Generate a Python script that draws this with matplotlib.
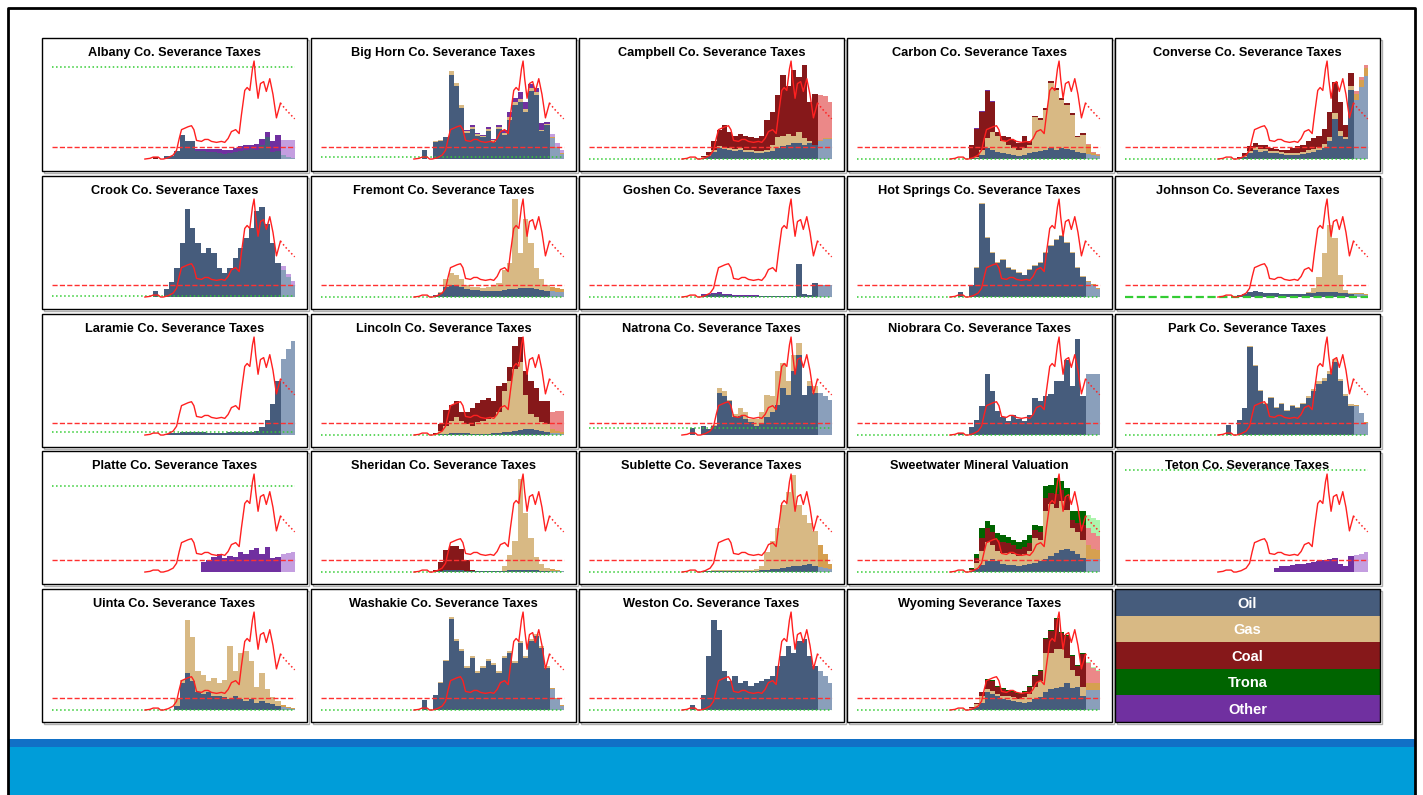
import numpy as np
import matplotlib
matplotlib.use("Agg")
import matplotlib.pyplot as plt
from matplotlib.patches import Rectangle

plt.rcParams['font.family'] = ['Liberation Sans', 'DejaVu Sans']

W, H = 1423, 795

# bins: 22 actual steps + 3 projected steps (x in step units)
bin_left = np.arange(42, 92, 2)
n_act = 22

# shared price line (normalised, peak = 100)
price_x = [35, 36.9, 38.1, 40, 40.9, 41.9, 43.75, 45.6, 46.9, 47.9, 48.75, 49.6, 51.25, 52.5,
           53.4, 54.4, 56.25, 57.5, 58.75, 60, 61.9, 63.75, 65, 66.25, 67.5, 69.1, 70.4, 71.25,
           72.5, 73.4, 74.4, 75.4, 76, 76.6, 77.5, 78.4, 79.6, 80.6, 81.9, 83.1, 84.4, 85.9]
price_y = [0, 0.7, 2, 2, 0, 0, 1.4, 4, 9, 21, 30, 31, 33, 34,
           30, 19, 18, 20, 20, 18, 17, 18, 17, 21, 28, 30, 26, 45,
           70, 73, 70, 92, 100, 82, 62, 77, 79, 69, 82, 66, 42, 57]
proj_x = [85.9, 88.1, 91.25]
proj_y = [57, 50, 41]

# ---- county data (oil, gas, coal, trona, other) ----
albany_oil = [3, 3, 8, 25, 18, 18, 8, 8, 7, 7, 6, 5, 6, 7, 8, 9, 10, 9, 14, 22, 7, 8, 4, 2, 1]
albany_other = [0, 0, 0, 0, 0, 0, 2, 2, 3, 3, 4, 4, 3, 4, 5, 5, 4, 6, 6, 6, 11, 17, 15, 17, 18]

bighorn_oil = [17, 18, 22, 86, 75, 52, 27, 31, 24, 22, 29, 17, 31, 25, 40, 55, 58, 48, 69, 65, 29, 35, 21, 11, 5]
bighorn_gas = [1, 1, 1, 4, 3, 3, 2, 2, 2, 2, 2, 2, 2, 2, 3, 3, 3, 3, 3, 3, 1, 1, 1, 1, 1]
bighorn_other = [0, 0, 0, 0, 0, 0, 1, 2, 1, 1, 2, 1, 2, 3, 5, 4, 7, 7, 5, 4, 7, 2, 4, 4, 3]

campbell_oil = [1, 3, 7, 11, 10, 9, 8, 9, 7, 7, 6, 6, 7, 8, 11, 13, 14, 16, 16, 14, 16, 14, 18, 20, 20]
campbell_gas = [1, 1, 2, 2, 2, 2, 2, 2, 2, 2, 2, 2, 2, 6, 12, 11, 12, 8, 12, 7, 2, 0, 1, 1, 1]
campbell_coal = [1, 3, 9, 17, 23, 17, 14, 15, 15, 14, 13, 16, 31, 34, 42, 62, 49, 67, 56, 75, 40, 52, 46, 43, 37]

carbon_oil = [1, 1, 4, 11, 9, 7, 6, 5, 4, 3, 4, 6, 7, 8, 9, 11, 9, 11, 10, 9, 7, 6, 5, 4, 3]
carbon_gas = [0, 1, 5, 10, 19, 17, 12, 9, 7, 6, 7, 8, 36, 32, 41, 67, 61, 49, 45, 36, 15, 19, 9, 2, 1]
carbon_coal = [13, 29, 39, 48, 30, 4, 6, 9, 8, 7, 13, 4, 1, 2, 2, 2, 2, 2, 2, 2, 2, 2, 1, 1, 1]
carbon_other = [0, 1, 1, 1, 1, 0, 0, 0, 0, 0, 0, 0, 0, 0, 0, 0, 0, 0, 0, 0, 0, 0, 0, 0, 0]

converse_oil = [1, 2, 6, 9, 7, 8, 6, 6, 5, 4, 4, 4, 5, 6, 7, 9, 11, 18, 41, 24, 20, 70, 60, 74, 85]
converse_gas = [0, 1, 2, 3, 3, 2, 2, 2, 2, 2, 2, 2, 2, 3, 3, 3, 4, 5, 6, 5, 3, 5, 6, 7, 8]
converse_coal = [1, 3, 5, 4, 4, 4, 3, 2, 2, 3, 5, 7, 7, 9, 11, 12, 16, 25, 32, 29, 12, 13, 3, 3, 3]

crook_oil = [8, 15, 30, 55, 90, 70, 55, 45, 50, 45, 30, 25, 30, 40, 50, 60, 70, 88, 92, 75, 55, 35, 28, 20, 12]
crook_other = [0, 0, 0, 0, 0, 0, 0, 0, 0, 0, 0, 0, 0, 0, 0, 0, 0, 0, 0, 0, 0, 0, 4, 4, 4]

fremont_oil = [2, 4, 10, 12, 12, 10, 8, 7, 7, 6, 6, 6, 6, 7, 8, 8, 9, 9, 9, 8, 7, 6, 6, 5, 5]
fremont_gas = [0, 1, 8, 13, 10, 8, 4, 3, 3, 3, 4, 6, 8, 21, 27, 92, 36, 71, 46, 22, 11, 6, 4, 4, 3]

goshen_oil = [2, 2, 3, 3, 2, 2, 1, 1, 1, 1, 1, 1, 1, 1, 1, 1, 1, 1, 34, 3, 2, 14, 12, 12, 12]
goshen_other = [1, 1, 1, 2, 1, 1, 1, 1, 1, 1, 1, 0, 0, 0, 0, 0, 0, 0, 0, 0, 0, 0, 0, 0, 0]

hotsprings_oil = [12, 30, 95, 60, 45, 35, 38, 30, 28, 25, 22, 28, 32, 35, 45, 52, 58, 62, 55, 45, 30, 20, 15, 12, 8]
hotsprings_gas = [0, 1, 1, 1, 1, 1, 1, 1, 1, 1, 1, 1, 1, 1, 1, 1, 1, 1, 1, 1, 1, 1, 1, 1, 1]

johnson_oil = [2, 3, 5, 6, 5, 4, 4, 4, 3, 3, 3, 3, 3, 4, 4, 5, 5, 5, 5, 4, 4, 3, 3, 3, 2]
johnson_gas = [0, 0, 0, 0, 0, 0, 0, 0, 0, 0, 0, 0, 0, 1, 5, 15, 40, 68, 55, 18, 3, 1, 1, 1, 1]

laramie_oil = [1, 2, 2, 3, 3, 3, 3, 3, 2, 2, 2, 2, 3, 3, 3, 3, 3, 4, 8, 15, 32, 55, 78, 88, 96]

lincoln_oil = [0, 1, 1, 2, 2, 2, 2, 1, 1, 1, 1, 2, 2, 3, 3, 4, 5, 6, 6, 5, 4, 3, 2, 2, 1]
lincoln_gas = [1, 3, 8, 12, 16, 12, 9, 8, 12, 13, 15, 16, 22, 42, 52, 63, 70, 35, 15, 13, 9, 8, 4, 2, 2]
lincoln_coal = [1, 7, 17, 17, 17, 10, 13, 19, 20, 22, 22, 17, 26, 8, 14, 24, 25, 24, 34, 30, 22, 24, 18, 21, 22]

natrona_oil = [9, 6, 9, 43, 40, 35, 18, 19, 16, 13, 9, 11, 18, 24, 31, 48, 41, 65, 82, 41, 50, 43, 43, 40, 36]
natrona_gas = [0, 0, 1, 5, 5, 1, 3, 9, 8, 3, 7, 13, 23, 16, 34, 26, 14, 17, 12, 0, 5, 7, 0, 0, 0]

niobrara_oil = [8, 15, 30, 62, 45, 25, 18, 14, 20, 16, 14, 20, 38, 35, 40, 42, 55, 55, 77, 50, 98, 40, 62, 62, 62]

park_oil = [15, 28, 90, 70, 45, 32, 38, 28, 32, 25, 30, 28, 32, 38, 45, 52, 55, 62, 75, 55, 40, 30, 30, 22, 12]
park_gas = [0, 0, 1, 1, 1, 1, 1, 1, 1, 1, 1, 1, 1, 2, 2, 3, 3, 3, 3, 2, 2, 2, 1, 1, 1]

platte_other = [0, 0, 0, 0, 0, 0, 0, 10, 12, 15, 18, 14, 16, 15, 20, 18, 22, 25, 18, 26, 14, 15, 18, 19, 20]

sheridan_oil = [1, 1, 2, 2, 2, 2, 1, 1, 1, 1, 1, 1, 1, 1, 2, 2, 2, 2, 2, 2, 1, 1, 1, 1, 1]
sheridan_gas = [0, 0, 0, 0, 0, 0, 0, 0, 0, 0, 0, 0, 0, 5, 15, 30, 93, 58, 33, 13, 7, 3, 2, 1, 0]
sheridan_coal = [1, 9, 20, 25, 25, 22, 11, 1, 0, 0, 0, 0, 0, 0, 0, 0, 0, 0, 0, 0, 0, 0, 0, 0, 0]

sublette_oil = [1, 1, 1, 1, 1, 1, 1, 1, 1, 1, 1, 2, 2, 3, 3, 4, 5, 6, 6, 7, 8, 6, 5, 4, 3]
sublette_gas = [0, 0, 1, 1, 1, 1, 1, 1, 1, 1, 2, 4, 18, 29, 42, 64, 77, 93, 62, 51, 42, 36, 23, 14, 5]

sweetwater_oil = [1, 3, 7, 11, 13, 11, 8, 7, 7, 6, 7, 8, 9, 11, 13, 16, 19, 23, 24, 21, 18, 14, 13, 13, 13]
sweetwater_gas = [1, 6, 14, 20, 15, 10, 11, 12, 11, 10, 11, 13, 26, 22, 49, 53, 46, 49, 39, 24, 23, 19, 15, 11, 10]
sweetwater_coal = [1, 5, 14, 14, 13, 12, 12, 11, 10, 8, 8, 9, 8, 8, 14, 12, 15, 12, 14, 8, 9, 15, 17, 16, 14]
sweetwater_trona = [1, 4, 10, 7, 7, 7, 7, 6, 5, 7, 7, 8, 5, 6, 12, 8, 16, 9, 9, 9, 12, 14, 13, 15, 16]

teton_other = [0, 0, 0, 0, 0, 0, 0, 4, 6, 6, 7, 8, 8, 9, 10, 11, 12, 13, 14, 8, 6, 16, 17, 18, 20]

uinta_oil = [0, 0, 4, 28, 38, 30, 18, 16, 18, 14, 14, 13, 11, 14, 11, 9, 11, 7, 9, 7, 6, 4, 3, 2, 1]
uinta_gas = [0, 0, 7, 3, 54, 45, 22, 20, 12, 19, 14, 18, 54, 26, 47, 51, 39, 17, 29, 14, 7, 5, 2, 1, 1]

washakie_oil = [15, 28, 50, 93, 70, 60, 43, 53, 38, 43, 50, 46, 38, 53, 58, 48, 68, 53, 70, 76, 63, 43, 21, 11, 4]
washakie_gas = [0, 1, 1, 2, 2, 2, 2, 2, 2, 2, 2, 2, 2, 2, 2, 2, 2, 2, 2, 2, 2, 2, 1, 1, 1]

weston_oil = [15, 55, 92, 82, 40, 30, 35, 28, 30, 25, 28, 30, 32, 35, 45, 55, 65, 58, 70, 72, 55, 45, 40, 35, 28]

wyoming_oil = [1, 3, 7, 18, 16, 14, 11, 10, 9, 8, 7, 8, 11, 13, 18, 21, 23, 24, 28, 23, 24, 14, 20, 20, 20]
wyoming_gas = [1, 3, 7, 3, 3, 2, 3, 4, 4, 3, 6, 8, 13, 17, 40, 37, 39, 38, 25, 18, 11, 10, 8, 8, 8]
wyoming_coal = [1, 1, 4, 10, 11, 8, 7, 5, 5, 5, 5, 8, 11, 10, 14, 23, 31, 17, 23, 14, 10, 33, 20, 15, 12]
wyoming_trona = [0, 0, 0, 1, 1, 1, 1, 1, 1, 1, 1, 1, 1, 1, 1, 1, 1, 1, 1, 1, 1, 1, 1, 1, 1]

# early step (before the main record) per county: (series, value)
early = {"Albany": ("coal", 2), "Big Horn": ("oil", 9), "Crook": ("oil", 6),
         "Hot Springs": ("oil", 5), "Natrona": ("oil", 7), "Park": ("oil", 10),
         "Washakie": ("oil", 10), "Weston": ("oil", 5), "Niobrara": ("oil", 2)}

# level of the green dotted reference line
green_level = {"Albany": 94, "Platte": 88, "Teton": 104, "Natrona": 7, "Big Horn": 2,
               "Laramie": 3, "Crook": 1}
red_level = 12

panels = [
    ("Albany Co. Severance Taxes", "Albany", {"oil": albany_oil, "other": albany_other}),
    ("Big Horn Co. Severance Taxes", "Big Horn", {"oil": bighorn_oil, "gas": bighorn_gas, "other": bighorn_other}),
    ("Campbell Co. Severance Taxes", "Campbell", {"oil": campbell_oil, "gas": campbell_gas, "coal": campbell_coal}),
    ("Carbon Co. Severance Taxes", "Carbon", {"oil": carbon_oil, "gas": carbon_gas, "coal": carbon_coal, "other": carbon_other}),
    ("Converse Co. Severance Taxes", "Converse", {"oil": converse_oil, "gas": converse_gas, "coal": converse_coal}),
    ("Crook Co. Severance Taxes", "Crook", {"oil": crook_oil, "other": crook_other}),
    ("Fremont Co. Severance Taxes", "Fremont", {"oil": fremont_oil, "gas": fremont_gas}),
    ("Goshen Co. Severance Taxes", "Goshen", {"oil": goshen_oil, "other": goshen_other}),
    ("Hot Springs Co. Severance Taxes", "Hot Springs", {"oil": hotsprings_oil, "gas": hotsprings_gas}),
    ("Johnson Co. Severance Taxes", "Johnson", {"oil": johnson_oil, "gas": johnson_gas}),
    ("Laramie Co. Severance Taxes", "Laramie", {"oil": laramie_oil}),
    ("Lincoln Co. Severance Taxes", "Lincoln", {"oil": lincoln_oil, "gas": lincoln_gas, "coal": lincoln_coal}),
    ("Natrona Co. Severance Taxes", "Natrona", {"oil": natrona_oil, "gas": natrona_gas}),
    ("Niobrara Co. Severance Taxes", "Niobrara", {"oil": niobrara_oil}),
    ("Park Co. Severance Taxes", "Park", {"oil": park_oil, "gas": park_gas}),
    ("Platte Co. Severance Taxes", "Platte", {"other": platte_other}),
    ("Sheridan Co. Severance Taxes", "Sheridan", {"oil": sheridan_oil, "gas": sheridan_gas, "coal": sheridan_coal}),
    ("Sublette Co. Severance Taxes", "Sublette", {"oil": sublette_oil, "gas": sublette_gas}),
    ("Sweetwater Mineral Valuation", "Sweetwater", {"oil": sweetwater_oil, "gas": sweetwater_gas,
                                                    "coal": sweetwater_coal, "trona": sweetwater_trona}),
    ("Teton Co. Severance Taxes", "Teton", {"other": teton_other}),
    ("Uinta Co. Severance Taxes", "Uinta", {"oil": uinta_oil, "gas": uinta_gas}),
    ("Washakie Co. Severance Taxes", "Washakie", {"oil": washakie_oil, "gas": washakie_gas}),
    ("Weston Co. Severance Taxes", "Weston", {"oil": weston_oil}),
    ("Wyoming Severance Taxes", "Wyoming", {"oil": wyoming_oil, "gas": wyoming_gas,
                                            "coal": wyoming_coal, "trona": wyoming_trona}),
]

order = ["oil", "gas", "coal", "trona", "other"]
labels = ["Oil", "Gas", "Coal", "Trona", "Other"]
colors = {"oil": "#465c7c", "gas": "#d8b984", "coal": "#86181a", "trona": "#006400", "other": "#7030a0"}
proj_colors = {"oil": "#8a9fbb", "gas": "#d6a050", "coal": "#eb8888", "trona": "#adf5ad", "other": "#c49ee0"}

col_x = [42, 311, 579, 847, 1115]
row_y = [38, 176, 314, 451, 589]
BW, BH = 265, 133

fig = plt.figure(figsize=(W / 100, H / 100), dpi=100)
bg = fig.add_axes([0, 0, 1, 1])
bg.set_xlim(0, W)
bg.set_ylim(H, 0)
bg.axis("off")

# slide frame and footer bands
bg.add_patch(Rectangle((8, 739), 1407, 8, facecolor="#1170c6", edgecolor="none"))
bg.add_patch(Rectangle((8, 747), 1407, 50, facecolor="#009dd9", edgecolor="none"))
bg.plot([8, 8, 1415, 1415], [800, 7.5, 7.5, 800], color="black", lw=2)

for k, (title, key, series) in enumerate(panels):
    bx, by = col_x[k % 5], row_y[k // 5]
    bg.add_patch(Rectangle((bx + 1.5, by + 1.5), BW, BH, facecolor="none", edgecolor="#b0b0b0", lw=1))
    bg.add_patch(Rectangle((bx, by), BW, BH, facecolor="white", edgecolor="black", lw=1))
    bg.text(bx + BW / 2, by + 15, title, ha="center", va="center", fontsize=9.2,
            fontweight="bold", zorder=5)

    ax = fig.add_axes([(bx + 5) / W, 1 - (by + 128) / H, 255 / W, 113 / H])
    ax.patch.set_alpha(0)
    ax.axis("off")
    ax.set_xlim(-1.76, 94.0)
    ax.set_ylim(-7.1, 108.2)

    base = np.zeros(len(bin_left))
    xa = np.append(bin_left[:n_act], bin_left[n_act])
    xp = np.append(bin_left[n_act:], 91.5)
    for s in order:
        if s not in series:
            continue
        top = base + np.array(series[s], dtype=float)
        ax.fill_between(xa, np.append(base[:n_act], base[n_act - 1]), np.append(top[:n_act], top[n_act - 1]),
                        step="post", color=colors[s], lw=0, zorder=2)
        ax.fill_between(xp, np.append(base[n_act:], base[-1]), np.append(top[n_act:], top[-1]),
                        step="post", color=proj_colors[s], lw=0, zorder=2)
        base = top
    if key in early:
        s, v = early[key]
        ax.fill_between([38, 40], [0, 0], [v, v], step="post", color=colors[s], lw=0, zorder=2)

    g = green_level.get(key, 0)
    ls = "--" if key == "Johnson" else ":"
    lw = 1.6 if key == "Johnson" else 1.1
    ax.plot([0, 91.5], [g, g], ls, color="#33cc33", lw=lw, zorder=3)
    ax.plot([0, 91.5], [red_level, red_level], "--", color="#ff3030", lw=1, zorder=3)
    ax.plot(price_x, price_y, color="#ff2020", lw=1, zorder=4)
    ax.plot(proj_x, proj_y, ":", color="#ff2020", lw=1.1, zorder=4)

# legend panel
lx, ly = col_x[4], row_y[4]
bg.add_patch(Rectangle((lx + 1.5, ly + 1.5), BW, BH, facecolor="none", edgecolor="#b0b0b0", lw=1))
band_h = BH / len(order)
for i, (s, lab) in enumerate(zip(order, labels)):
    bg.add_patch(Rectangle((lx, ly + i * band_h), BW, band_h, facecolor=colors[s], edgecolor="none"))
    bg.text(lx + BW / 2, ly + (i + 0.55) * band_h, lab, ha="center", va="center",
            color="white", fontsize=10.5, fontweight="bold")
bg.add_patch(Rectangle((lx, ly), BW, BH, facecolor="none", edgecolor="black", lw=1))

fig.savefig("out.png", dpi=100)
